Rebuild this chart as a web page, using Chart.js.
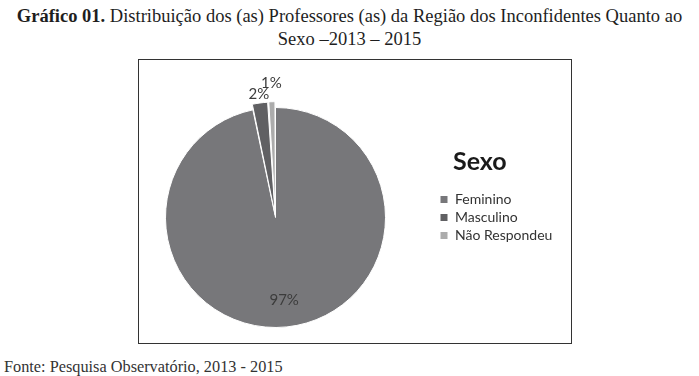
<!DOCTYPE html>
<html>
<head>
<meta charset="utf-8">
<script src="https://cdn.jsdelivr.net/npm/chart.js@4/dist/chart.umd.min.js"></script>
<style>
  body { margin: 0; background: #fff; width: 699px; height: 376px; position: relative; overflow: hidden; }
  #title { position: absolute; left: 0; top: 5px; width: 699px; text-align: center;
    font: 18.5px "Liberation Serif", serif; line-height: 23px; color: #1e1e1e; }
  #box { position: absolute; left: 138px; top: 59px; width: 434px; height: 285px;
    box-sizing: border-box; border: 1px solid #333; }
  #pie { position: absolute; left: 115px; top: 60px; }
  #fonte { position: absolute; left: 4px; top: 357px; font: 16.3px "Liberation Serif", serif; color: #333; }
</style>
</head>
<body>
<div id="title"><b>Gráfico 01.</b> Distribuição dos (as) Professores (as) da Região dos Inconfidentes Quanto ao<br>Sexo –2013 – 2015</div>
<div id="box"></div>
<canvas id="pie" width="456" height="282"></canvas>
<div id="fonte">Fonte: Pesquisa Observatório, 2013 - 2015</div>
<script>
// data
const labels = ['Feminino', 'Masculino', 'Não Respondeu'];
const percents = [96.7, 2.3, 1.0];
const colors = ['#77777a', '#606063', '#acacac'];
const legendTitle = 'Sexo';

const fontFamily = 'Lato, "Open Sans", sans-serif';
const labelFont = '14px ' + fontFamily;

// work out right padding so the legend starts at x=320 of the canvas
const canvas = document.getElementById('pie');
const mctx = document.createElement('canvas').getContext('2d');
mctx.font = labelFont;
const maxW = Math.max(...labels.map(l => mctx.measureText(l).width));
const legendW = 5 + 8 + 7 + maxW + 10;
const padRight = canvas.width - 320 - legendW;

// percent labels on slices, small ones outside and stepped outwards
const pctLabels = {
  id: 'pctLabels',
  afterDatasetsDraw(chart) {
    const ctx = chart.ctx;
    const meta = chart.getDatasetMeta(0);
    ctx.save();
    ctx.font = '15px ' + fontFamily;
    ctx.fillStyle = '#3c3c3c';
    ctx.textAlign = 'center';
    ctx.textBaseline = 'middle';
    let k = 0;
    meta.data.forEach((arc, i) => {
      const p = arc.getProps(['x', 'y', 'startAngle', 'endAngle', 'outerRadius'], true);
      const mid = (p.startAngle + p.endAngle) / 2;
      let r;
      if (percents[i] > 10) r = p.outerRadius * 0.76;
      else r = p.outerRadius + 14 + 10 * k++;
      ctx.fillText(Math.round(percents[i]) + '%', p.x + Math.cos(mid) * r, p.y + Math.sin(mid) * r);
    });
    ctx.restore();
  }
};

// legend heading
const legendHead = {
  id: 'legendHead',
  afterDraw(chart) {
    const box = chart.legend.legendHitBoxes[0];
    if (!box) return;
    const ctx = chart.ctx;
    ctx.save();
    ctx.font = 'bold 25px ' + fontFamily;
    ctx.fillStyle = '#1a1a1a';
    ctx.textBaseline = 'middle';
    ctx.fillText(legendTitle, box.left + 13, box.top - 31);
    ctx.restore();
  }
};

new Chart(canvas, {
  type: 'pie',
  data: {
    labels: labels,
    datasets: [{
      data: percents,
      backgroundColor: colors,
      borderColor: '#fff',
      borderWidth: 1,
      offset: [0, 12, 12]
    }]
  },
  options: {
    responsive: false,
    animation: false,
    devicePixelRatio: 1,
    layout: { padding: { left: 0, top: 41, bottom: 8, right: padRight } },
    plugins: {
      legend: {
        position: 'right',
        align: 'center',
        labels: {
          boxWidth: 8,
          boxHeight: 8,
          padding: 4,
          color: '#333',
          font: { family: fontFamily, size: 14 }
        }
      },
      tooltip: { enabled: false }
    }
  },
  plugins: [pctLabels, legendHead]
});
</script>
</body>
</html>
